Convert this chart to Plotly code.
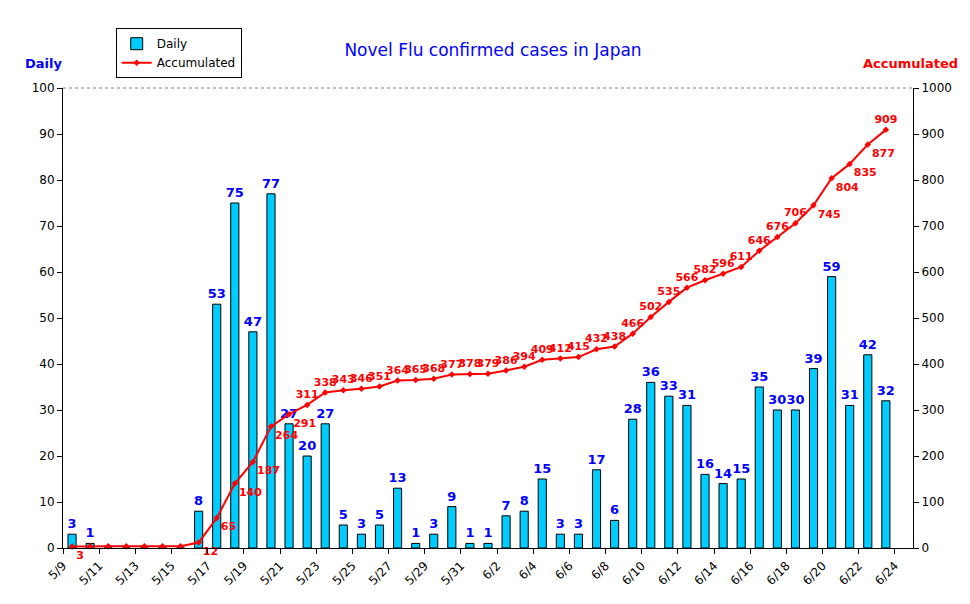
import plotly.graph_objects as go

dates = [f"5/{d}" for d in range(9, 32)] + [f"6/{d}" for d in range(1, 25)]
daily = [3, 1, 0, 0, 0, 0, 0, 8, 53, 75, 47, 77, 27, 20, 27, 5, 3, 5, 13, 1, 3, 9, 1,
         1, 7, 8, 15, 3, 3, 17, 6, 28, 36, 33, 31, 16, 14, 15, 35, 30, 30, 39, 59, 31, 42, 32]
accum = [3, 4, 4, 4, 4, 4, 4, 12, 65, 140, 187, 264, 291, 311, 338, 343, 346, 351, 364, 365,
         368, 377, 378, 379, 386, 394, 409, 412, 415, 432, 438, 466, 502, 535, 566, 582, 596,
         611, 646, 676, 706, 745, 804, 835, 877, 909]

# category centres sit half a step right of the date ticks
xs = [i + 0.5 for i in range(len(daily))]
tick_idx = list(range(0, len(dates), 2))

acc_pos = []
for i, v in enumerate(accum):
    if i <= 12:
        acc_pos.append("bottom right")
    elif len(accum) - 5 <= i < len(accum) - 1:
        acc_pos.append("bottom right")
    elif i == len(accum) - 5:
        acc_pos.append("top left")
    else:
        acc_pos.append("top center")

acc_text = [str(v) if (i == 0 or i >= 7) else "" for i, v in enumerate(accum)]
day_text = [f"<b>{v}</b>" if v > 0 else "" for v in daily]
acc_text = [f"<b>{t}</b>" if t else "" for t in acc_text]

fig = go.Figure()
fig.add_trace(go.Bar(
    x=xs, y=daily, name="Daily", width=0.45,
    marker=dict(color="#00CCFF", line=dict(color="black", width=1)),
    text=day_text, textposition="outside", cliponaxis=False, constraintext="none",
    textfont=dict(color="#0000FF", size=13, family="DejaVu Sans"),
))
fig.add_trace(go.Scatter(
    x=xs, y=accum, name="Accumulated", yaxis="y2",
    mode="lines+markers+text", line=dict(color="red", width=2),
    marker=dict(color="red", size=5, symbol="diamond"),
    text=acc_text, textposition=acc_pos, cliponaxis=False,
    textfont=dict(color="red", size=11, family="DejaVu Sans"),
))

fig.update_layout(
    width=970, height=604,
    paper_bgcolor="white", plot_bgcolor="white",
    margin=dict(l=55, r=65, t=80, b=64, autoexpand=False),
    font=dict(family="DejaVu Sans", color="black", size=12),
    title=dict(text="Novel Flu confirmed cases in Japan", x=0.5, y=0.94,
               xanchor="center", font=dict(color="#0000FF", size=17)),
    showlegend=True, bargap=0.5,
    legend=dict(x=0.062, y=1.13, xanchor="left", yanchor="top", bordercolor="black",
                borderwidth=1, bgcolor="white", font=dict(size=12), tracegroupgap=0),
    xaxis=dict(range=[0, len(dates)], tickmode="array", tickvals=tick_idx,
               ticktext=[dates[i] for i in tick_idx], tickangle=-45,
               showline=True, linecolor="black", ticks="outside", tickcolor="black",
               showgrid=False, zeroline=False),
    yaxis=dict(range=[0, 100], dtick=10, showline=True, linecolor="black", ticks="outside",
               tickcolor="black", showgrid=False, zeroline=False),
    yaxis2=dict(range=[0, 1000], dtick=100, overlaying="y", side="right", showline=True,
                linecolor="black", ticks="outside", tickcolor="black", showgrid=False,
                zeroline=False),
    shapes=[dict(type="line", xref="paper", yref="paper", x0=0, x1=1, y0=1, y1=1,
                 line=dict(color="gray", width=1, dash="dot"))],
    annotations=[
        dict(text="<b>Daily</b>", xref="paper", yref="paper", x=-0.047, y=1.075,
             xanchor="left", showarrow=False, font=dict(color="#0000FF", size=13)),
        dict(text="<b>Accumulated</b>", xref="paper", yref="paper", x=1.055, y=1.075,
             xanchor="right", showarrow=False, font=dict(color="red", size=13)),
    ],
)

fig.write_html("out.html")
